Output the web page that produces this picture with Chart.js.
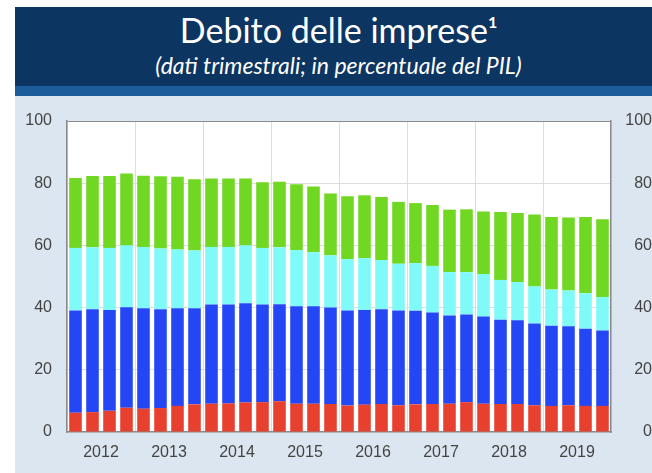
<!DOCTYPE html>
<html>
<head>
<meta charset="utf-8">
<script src="https://cdn.jsdelivr.net/npm/chart.js@4"></script>
<style>
  html, body { margin: 0; padding: 0; background: #fff; width: 652px; height: 473px; overflow: hidden; }
  #head { position: absolute; left: 15px; top: 7px; width: 637px; height: 79px; background: #0c3561; color: #fff; text-align: center; font-family: Lato, "Open Sans", sans-serif; }
  #title { position: absolute; left: 0; right: 0; top: 4px; font-size: 34px; line-height: 38px; padding-left: 10px; }
  #title sup { font-size: 16px; vertical-align: 15px; line-height: 0; font-weight: bold; }
  #sub { position: absolute; left: 0; right: 0; top: 45px; font-size: 23px; line-height: 26px; font-style: italic; padding-left: 10px; }
  #stripe { position: absolute; left: 15px; top: 86px; width: 637px; height: 10px; background: #1d5c9b; }
  #panel { position: absolute; left: 15px; top: 96px; width: 637px; height: 377px; background: #dce6f0; }
</style>
</head>
<body>
<div id="head">
  <div id="title">Debito delle imprese<sup>1</sup></div>
  <div id="sub">(dati trimestrali; in percentuale del PIL)</div>
</div>
<div id="stripe"></div>
<div id="panel"><canvas id="c" width="637" height="377"></canvas></div>
<script>
// quarters 2012 Q1 - 2019 Q4
var years = ["2012", "2013", "2014", "2015", "2016", "2017", "2018", "2019"];
var quarters = [];
years.forEach(function (y) { for (var q = 1; q <= 4; q++) quarters.push(y + " T" + q); });

var redVals = [6.2, 6.4, 6.8, 7.8, 7.5, 7.7, 8.4, 8.9, 9.1, 9.2, 9.5, 9.6, 9.9, 9.1, 9.1, 9.0,
               8.5, 8.8, 9.0, 8.6, 8.9, 9.0, 9.1, 9.6, 9.1, 9.0, 9.0, 8.6, 8.4, 8.6, 8.4, 8.4];
var blueVals = [32.9, 33.1, 32.4, 32.3, 32.3, 31.8, 31.4, 30.9, 31.9, 31.8, 31.9, 31.4, 31.2, 31.3, 31.3, 31.0,
                30.6, 30.4, 30.5, 30.5, 30.1, 29.4, 28.4, 28.2, 28.0, 27.1, 26.9, 26.3, 25.8, 25.4, 24.8, 24.2];
var cyanVals = [20.1, 19.9, 20.0, 19.9, 19.7, 19.5, 18.9, 18.6, 18.5, 18.5, 18.6, 18.2, 18.3, 18.1, 17.4, 16.8,
                16.5, 16.7, 15.8, 15.0, 15.3, 15.0, 13.9, 13.6, 13.7, 12.8, 12.3, 11.9, 11.6, 11.5, 11.4, 10.8];
var greenVals = [22.5, 22.9, 23.1, 23.1, 22.9, 23.2, 23.4, 22.9, 22.0, 22.0, 21.5, 21.1, 21.1, 21.2, 21.1, 19.9,
                 20.2, 20.2, 20.3, 19.9, 19.3, 19.6, 20.1, 20.2, 20.1, 21.8, 22.2, 23.1, 23.3, 23.5, 24.5, 25.0];
var yTicks = [0, 20, 40, 60, 80, 100];

var whiteArea = {
  id: 'whiteArea',
  beforeDraw: function (chart) {
    var a = chart.chartArea, ctx = chart.ctx;
    ctx.save();
    ctx.fillStyle = '#ffffff';
    ctx.fillRect(a.left, a.top, a.right - a.left, a.bottom - a.top);
    ctx.restore();
  }
};

function ds(label, vals, color) {
  return { label: label, data: vals, backgroundColor: color, borderWidth: 0,
           barPercentage: 0.74, categoryPercentage: 1, xAxisID: 'x', yAxisID: 'y' };
}

var tickFont = { family: '"Liberation Sans", Arial, sans-serif', size: 16 };

new Chart(document.getElementById('c').getContext('2d'), {
  type: 'bar',
  data: {
    labels: quarters,
    datasets: [
      ds('rosso', redVals, '#e8402f'),
      ds('blu', blueVals, '#2446f5'),
      ds('azzurro', cyanVals, '#80f9f9'),
      ds('verde', greenVals, '#70d723')
    ]
  },
  options: {
    responsive: false,
    animation: false,
    layout: { padding: { top: 25, left: 0, right: 0, bottom: 0 } },
    plugins: { legend: { display: false }, tooltip: { enabled: false } },
    scales: {
      x: { stacked: true, display: false },
      xYear: {
        type: 'category', labels: years, position: 'bottom', offset: true,
        grid: { offset: true, color: '#dddddd', drawTicks: false },
        border: { color: '#8a8a8a', width: 1.5 },
        ticks: { color: '#444', font: tickFont, padding: 11 },
        afterFit: function (s) { s.height = 41; }
      },
      y: {
        stacked: true, min: 0, max: 100, position: 'left',
        afterBuildTicks: function (s) { s.ticks = yTicks.map(function (v) { return { value: v }; }); },
        grid: { color: function (c) { return c.tick && c.tick.value === 100 ? '#8a8a8a' : '#dddddd'; }, drawTicks: false },
        border: { color: '#8a8a8a', width: 1.5 },
        ticks: { color: '#444', font: tickFont, padding: 15 },
        afterFit: function (s) { s.width = 52; }
      },
      y2: {
        min: 0, max: 100, position: 'right',
        afterBuildTicks: function (s) { s.ticks = yTicks.map(function (v) { return { value: v }; }); },
        grid: { display: false, drawTicks: false },
        border: { color: '#8a8a8a', width: 1.5 },
        ticks: { color: '#444', font: tickFont, padding: 0, crossAlign: 'far' },
        afterFit: function (s) { s.width = 41; }
      }
    }
  },
  plugins: [whiteArea]
});
</script>
</body>
</html>
